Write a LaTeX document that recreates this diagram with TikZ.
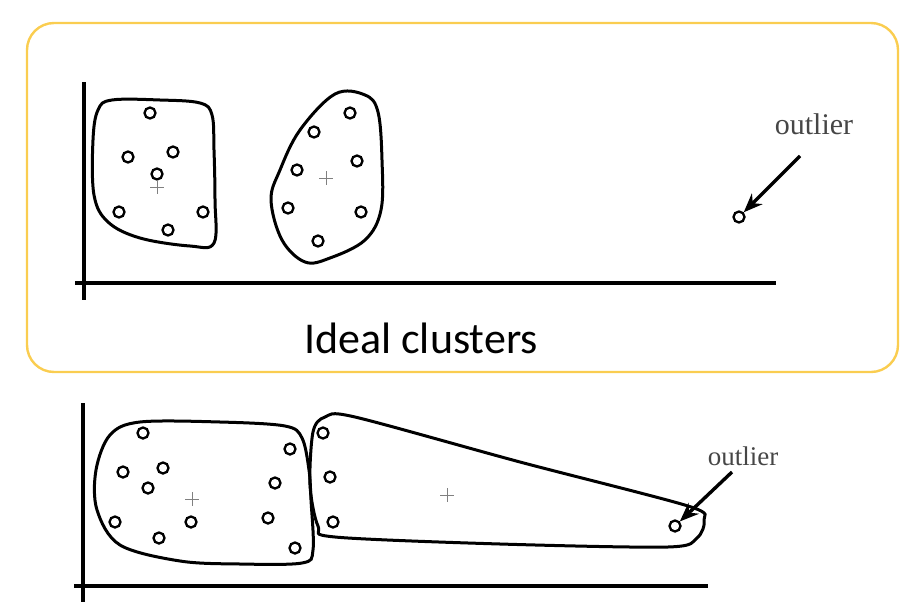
\documentclass[tikz,border=0pt]{standalone}
\usepackage{fontspec}
\setmainfont{Liberation Serif}
\newfontfamily\calfont{Carlito}
\usetikzlibrary{arrows.meta}
\definecolor{boxyellow}{RGB}{250,205,80}
\definecolor{labelgray}{RGB}{70,70,70}
\tikzset{
  pt/.style={circle,draw=black,line width=2.3pt,minimum size=11pt,inner sep=0pt},
  blob/.style={draw=black,line width=3pt},
  axis/.style={draw=black,line width=3.4pt},
  cent/.style={draw=gray,line width=1pt},
  arr/.style={draw=black,line width=3.4pt,-{Stealth[length=19pt,width=15pt]}},
  lbl/.style={text=labelgray,inner sep=0pt},
}
\begin{document}
\begin{tikzpicture}[x=1pt,y=-1pt]
\useasboundingbox (0,0) rectangle (918,608);
% yellow frame
\draw[boxyellow,line width=2.4pt,rounded corners=27pt] (27,23) rectangle (898,372);
\node[inner sep=0pt,anchor=base] (title) at (421,353) {\calfont\fontsize{44}{50}\selectfont Ideal clusters};

% ---------- top axes ----------
\coordinate (tyTop) at (84,82);
\coordinate (tyBot) at (84,300);
\coordinate (txL) at (75,283);
\coordinate (txR) at (776,283);
\draw[axis] (tyTop) -- (tyBot);
\draw[axis] (txL) -- (txR);

% cluster 1
\draw[blob] plot[smooth cycle,tension=0.6] coordinates {(112,100) (160,100) (200,103) (212,115) (214,150) (215,200) (214,243) (190,246) (140,238) (108,222) (94,195) (93,140) (98,110)};
\foreach \n/\x/\y in {a1/150/113,a2/128/157,a3/173/152,a4/157/174,a5/119/212,a6/203/212,a7/168/230}
  \node[pt] (\n) at (\x,\y) {};
\draw[cent] (150,187) -- (164,187) (157,180) -- (157,194);

% cluster 2
\draw[blob] plot[smooth cycle,tension=0.6] coordinates {(335,94) (365,95) (378,112) (382,160) (381,210) (365,240) (330,258) (305,262) (282,240) (271,200) (280,170) (300,130)};
\foreach \n/\x/\y in {b1/350/113,b2/314/132,b3/297/170,b4/357/161,b5/288/208,b6/361/212,b7/318/241}
  \node[pt] (\n) at (\x,\y) {};
\draw[cent] (319,178) -- (333,178) (326,171) -- (326,185);

% outlier top
\node[pt] (o1) at (739,217) {};
\node[lbl,font=\fontsize{30}{34}\selectfont] (ol1) at (814,124) {outlier};
\coordinate (o1s) at (800,156);
\draw[arr] (o1s) -- (o1);

% ---------- bottom axes ----------
\coordinate (byTop) at (83,403);
\coordinate (byBot) at (83,602);
\coordinate (bxL) at (74,586);
\coordinate (bxR) at (708,586);
\draw[axis] (byTop) -- (byBot);
\draw[axis] (bxL) -- (bxR);

% cluster A
\draw[blob] plot[smooth cycle,tension=0.55] coordinates {(140,422) (220,422) (285,426) (302,438) (309,470) (311,500) (313,550) (302,563) (240,564) (180,561) (120,545) (97,510) (96,470) (110,435)};
\foreach \n/\x/\y in {c1/143/433,c2/123/472,c3/163/468,c4/148/488,c5/115/522,c6/159/538,c7/191/522,c8/290/449,c9/275/483,c10/268/518,c11/295/548}
  \node[pt] (\n) at (\x,\y) {};
\draw[cent] (185,499) -- (199,499) (192,492) -- (192,506);

% cluster B
\draw[blob] plot[smooth cycle,tension=0.5] coordinates {(325,417) (355,417) (520,462) (688,506) (704,520) (697,538) (668,547) (500,544) (335,537) (318,526) (310,485) (313,432)};
\foreach \n/\x/\y in {d1/323/433,d2/330/477,d3/333/522}
  \node[pt] (\n) at (\x,\y) {};
\node[pt] (o2) at (675,526) {};
\draw[cent] (440,495) -- (454,495) (447,488) -- (447,502);

\node[lbl,font=\fontsize{27}{30}\selectfont] (ol2) at (743,456) {outlier};
\coordinate (o2s) at (732,472);
\draw[arr] (o2s) -- (o2);
\end{tikzpicture}
\end{document}
